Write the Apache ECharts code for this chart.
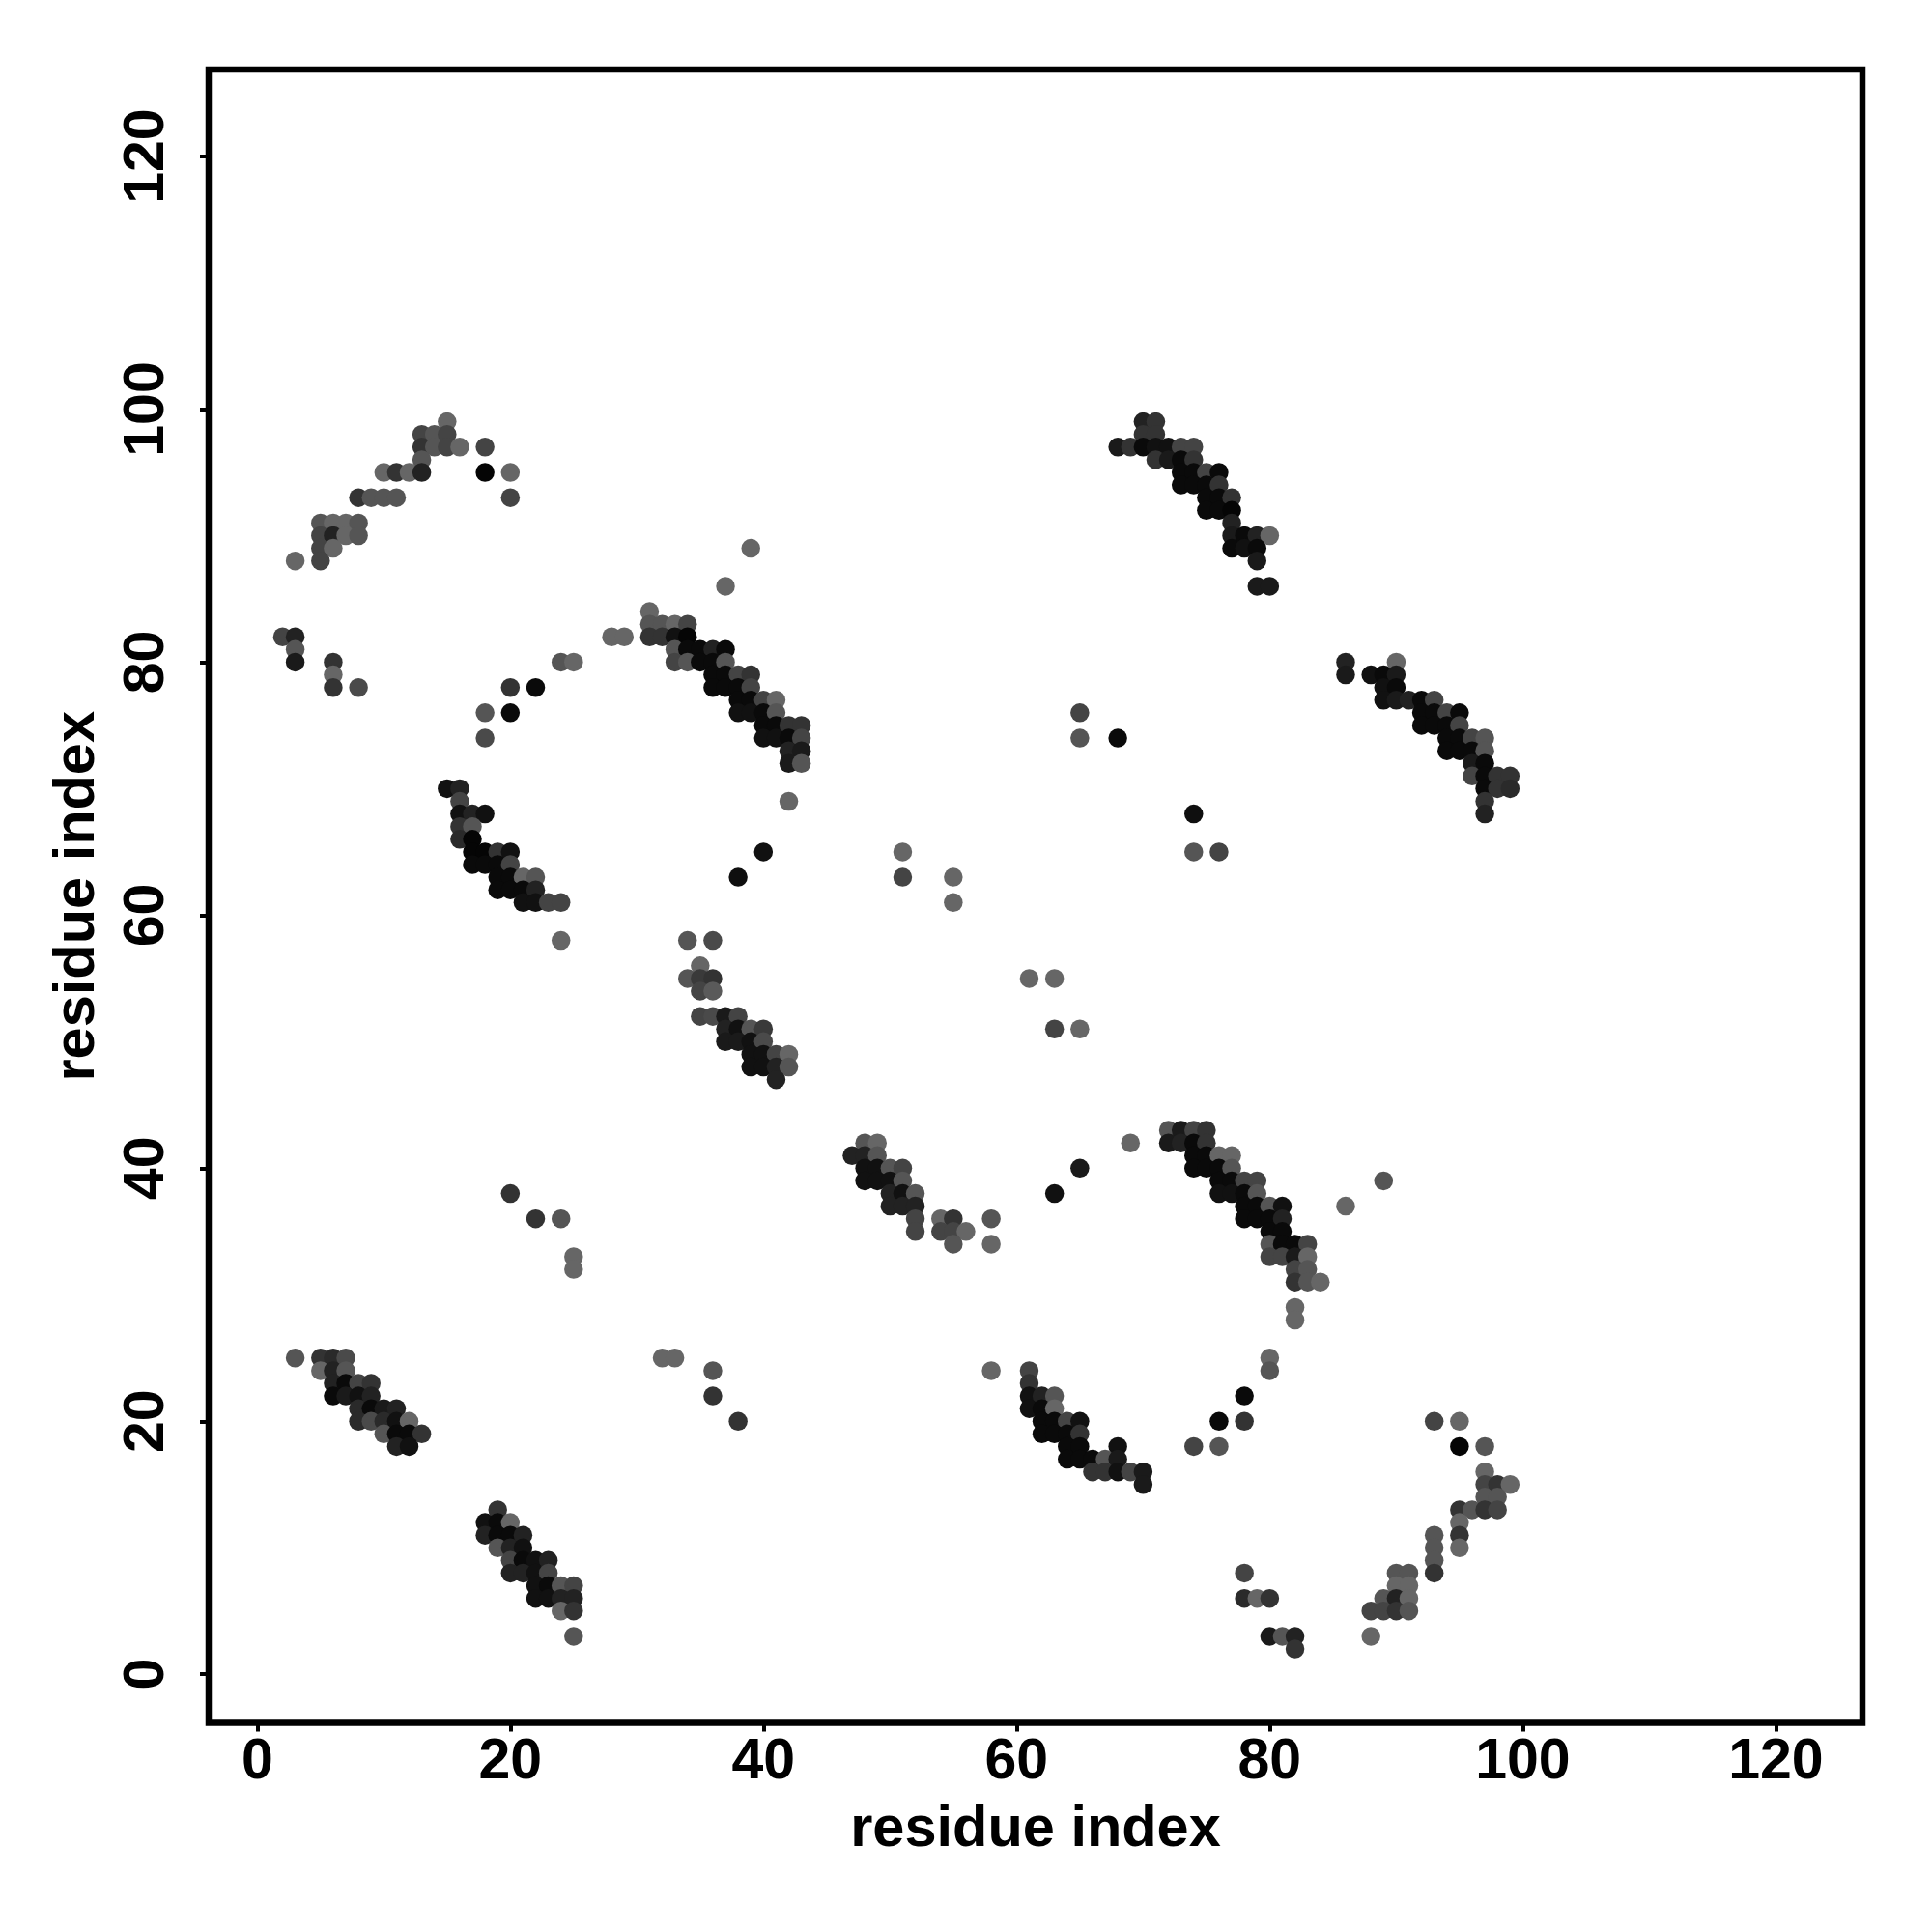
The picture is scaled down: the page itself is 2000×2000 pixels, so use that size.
<!DOCTYPE html>
<html>
<head>
<meta charset="utf-8">
<style>html,body{margin:0;padding:0;background:#fff}#c{width:2000px;height:2000px}</style>
<script src="https://cdn.jsdelivr.net/npm/echarts@6/dist/echarts.min.js"></script>
</head>
<body>
<div id="c"></div>
<script>
// Each entry: [residue i, residue j, grey level of the dot]
const tickLabels = [0, 20, 40, 60, 80, 100, 120];
const axisTitle = 'residue index';

const bottomLeftA = [
[3,25,85],[5,25,51],[6,25,42],[7,25,74],[5,24,102],[6,24,34],[7,24,85],
[6,23,34],[7,23,10],[8,23,68],[9,23,51],[6,22,10],[7,22,26],[8,22,17],[9,22,34],
[8,21,42],[9,21,10],[10,21,26],[11,21,34],[8,20,42],[9,20,74],[10,20,42],[11,20,17],[12,20,102],
[10,19,85],[11,19,10],[12,19,10],[13,19,51],[11,18,34],[12,18,17]];
const bottomLeftB = [
[19,13,51],[18,12,17],[19,12,10],[20,12,102],[18,11,34],[19,11,10],[20,11,10],[21,11,34],
[19,10,85],[20,10,34],[21,10,17],[20,9,68],[21,9,10],[22,9,17],[23,9,34],
[20,8,34],[21,8,34],[22,8,17],[23,8,68],[22,7,17],[23,7,10],[24,7,85],[25,7,68],
[22,6,17],[23,6,17],[24,6,34],[25,6,34],[24,5,102],[25,5,51],[25,3,85]];
const midCluster = [
[34,58,85],[36,58,74],[35,56,102],[34,55,85],[35,55,58],[36,55,51],[35,54,68],[36,54,90],
[35,52,68],[36,52,74],[37,52,26],[38,52,68],[37,51,34],[38,51,17],[39,51,85],[40,51,58],
[37,50,26],[38,50,26],[39,50,17],[40,50,74],[39,49,17],[40,49,17],[41,49,68],[42,49,102],
[39,48,17],[40,48,17],[41,48,34],[42,48,85],[41,47,34]];
const centreArc = [
[48,42,85],[49,42,102],[47,41,34],[48,41,34],[49,41,85],[48,40,17],[49,40,17],[50,40,85],[51,40,68],
[48,39,17],[49,39,17],[50,39,17],[51,39,85],[50,38,34],[51,38,17],[52,38,85],
[50,37,34],[51,37,34],[52,37,34],[52,36,68],[54,36,102],[55,36,51],[58,36,85],
[52,35,68],[54,35,68],[55,35,68],[56,35,102],[55,34,85],[58,34,102]];
const rightArc = [
[72,43,85],[73,43,26],[74,43,68],[75,43,51],[72,42,26],[73,42,34],[74,42,10],[75,42,51],
[74,41,10],[75,41,10],[76,41,102],[77,41,102],[74,40,10],[75,40,10],[76,40,10],[77,40,85],
[76,39,10],[77,39,10],[78,39,68],[79,39,68],[76,38,17],[77,38,17],[78,38,10],[79,38,85],
[78,37,10],[79,37,10],[80,37,85],[81,37,17],[78,36,10],[79,36,10],[80,36,10],[81,36,34],
[80,35,10],[81,35,10],[80,34,85],[81,34,10],[82,34,10],[83,34,68],
[80,33,68],[81,33,68],[82,33,26],[83,33,102],[82,32,68],[83,32,85],
[82,31,51],[83,31,85],[84,31,102],[82,29,102],[82,28,102]];
const lowerArc = [
[61,24,68],[61,23,51],[61,22,17],[62,22,34],[63,22,85],[61,21,17],[62,21,10],[63,21,102],
[62,20,10],[63,20,10],[64,20,68],[65,20,17],[62,19,10],[63,19,10],[64,19,10],[65,19,51],
[64,18,10],[65,18,10],[68,18,17],[64,17,10],[65,17,10],[66,17,10],[67,17,85],[68,17,26],
[66,16,51],[67,16,51],[68,16,17],[69,16,68],[70,16,26],[70,15,26]];
const bottomRight = [
[93,20,68],[95,20,102],[95,18,5],[97,18,85],[97,16,102],[97,15,68],[98,15,51],[99,15,102],
[97,14,85],[98,14,85],[95,13,51],[96,13,85],[97,13,51],[98,13,68],[95,12,102],[93,11,85],[95,11,51],
[93,10,85],[95,10,102],[93,9,85],[90,8,85],[91,8,85],[93,8,51],[90,7,102],[91,7,102],
[89,6,85],[90,6,34],[91,6,102],[88,5,68],[89,5,68],[90,5,51],[91,5,85],[88,3,102]];
const bottomMiddle = [
[78,8,68],[78,6,42],[79,6,102],[80,6,51],[80,3,26],[81,3,85],[82,3,34],[82,2,51]];
const topLeftArc = [
[15,99,102],[13,98,68],[14,98,85],[15,98,68],[13,97,51],[14,97,85],[15,97,68],[16,97,102],[18,97,68],
[13,96,85],[10,95,102],[11,95,51],[12,95,102],[13,95,34],[18,95,5],[20,95,102],
[8,93,51],[9,93,85],[10,93,85],[11,93,85],[20,93,68],
[5,91,85],[6,91,102],[7,91,102],[8,91,85],[5,90,68],[6,90,34],[7,90,102],[8,90,85],
[5,89,68],[6,89,102],[3,88,102],[5,88,68]];
const leftGroup = [
[2,82,68],[3,82,34],[3,81,85],[3,80,26],[6,80,51],[6,79,102],[6,78,51],[8,78,74]];
const upperArc = [
[39,89,102],[37,86,102],[31,84,102],[31,83,85],[32,83,85],[33,83,102],[34,83,68],
[28,82,102],[29,82,102],[31,82,51],[32,82,51],[33,82,17],[34,82,5],
[33,81,85],[34,81,10],[35,81,10],[36,81,34],[37,81,10],[33,80,68],[34,80,85],[35,80,10],[36,80,10],[37,80,85],
[36,79,10],[37,79,10],[38,79,68],[39,79,51],[36,78,10],[37,78,10],[38,78,10],[39,78,68],
[38,77,10],[39,77,10],[40,77,68],[41,77,102],[38,76,17],[39,76,17],[40,76,10],[41,76,85],
[40,75,10],[41,75,10],[42,75,51],[43,75,51],[40,74,17],[41,74,17],[42,74,10],[43,74,68],
[42,73,34],[43,73,26],[42,72,26],[43,72,85],[42,69,102]];
const innerArc = [
[24,80,85],[25,80,102],[20,78,51],[22,78,10],[18,76,85],[20,76,10],[18,74,74],[40,65,17],[38,63,15]];
const leftMidArc = [
[15,70,17],[16,70,34],[16,69,68],[16,68,17],[17,68,34],[18,68,17],[16,67,51],[17,67,85],
[16,66,42],[17,66,5],[17,65,5],[18,65,5],[19,65,51],[20,65,17],[17,64,10],[18,64,10],[19,64,10],[20,64,68],
[19,63,10],[20,63,10],[21,63,102],[22,63,85],[19,62,10],[20,62,10],[21,62,10],[22,62,34],
[21,61,17],[22,61,17],[23,61,68],[24,61,68],[24,58,102]];
const topRightArc = [
[70,99,34],[71,99,51],[70,98,51],[71,98,51],[68,97,26],[69,97,51],[70,97,10],[71,97,17],[72,97,17],[73,97,68],[74,97,68],
[71,96,51],[72,96,26],[73,96,10],[74,96,51],[73,95,10],[74,95,10],[75,95,68],[76,95,10],
[73,94,10],[74,94,10],[75,94,10],[76,94,51],[75,93,10],[76,93,10],[77,93,51],[75,92,10],[76,92,10],[77,92,5],
[77,91,34],[77,90,26],[78,90,10],[79,90,34],[80,90,102],[77,89,10],[78,89,17],[79,89,10],[79,88,26],[79,86,26],[80,86,26]];
const farRightArc = [
[86,80,34],[90,80,102],[86,79,26],[88,79,17],[89,79,10],[90,79,26],[89,78,17],[90,78,10],
[89,77,17],[90,77,26],[91,77,34],[92,77,10],[93,77,68],[92,76,10],[93,76,10],[94,76,68],[95,76,10],
[92,75,10],[93,75,10],[94,75,10],[95,75,68],[94,74,10],[95,74,10],[96,74,68],[97,74,85],
[94,73,10],[95,73,10],[96,73,10],[97,73,85],[96,72,26],[97,72,10],[96,71,68],[97,71,10],[98,71,51],[99,71,51],
[97,70,10],[98,70,51],[99,70,42],[97,69,51],[97,68,34]];
const isolated = [
[65,76,68],[65,74,85],[68,74,10],[74,68,15],[74,65,85],[76,65,68],
[51,65,102],[51,63,68],[55,63,102],[55,61,102],[61,55,102],[63,55,102],[63,51,68],[65,51,102],
[69,42,102],[65,40,26],[63,38,17],[86,37,102],[89,39,85],
[80,25,102],[80,24,85],[78,22,10],[76,20,10],[78,20,51],[74,18,68],[76,18,85],[58,24,102],
[20,38,51],[22,36,51],[24,36,85],[25,33,102],[25,32,102],[32,25,102],[33,25,102],[36,24,85],[36,22,51],[38,20,51]];

const contacts = [].concat(bottomLeftA, bottomLeftB, midCluster, centreArc, rightArc, lowerArc,
  bottomRight, bottomMiddle, topLeftArc, leftGroup, upperArc, innerArc, leftMidArc,
  topRightArc, farRightArc, isolated);

const font = '"Liberation Sans", Arial, sans-serif';
function axis(rot) {
  return {
    type: 'value', min: -3.84, max: 126.84, scale: false,
    name: axisTitle, nameLocation: 'middle',
    nameGap: rot ? 105 : 81,
    nameTextStyle: {fontFamily: font, fontWeight: 'bold', fontSize: 59.5, color: '#000'},
    axisLine: {show: false, onZero: false},
    axisTick: {show: true, length: 9, inside: false, customValues: tickLabels, lineStyle: {color: '#000', width: 4}},
    axisLabel: {show: true, customValues: tickLabels, rotate: rot, margin: rot ? 34 : 12,
      fontFamily: font, fontWeight: 'bold', fontSize: 59, color: '#000'},
    splitLine: {show: false}
  };
}
const chart = echarts.init(document.getElementById('c'), null, {renderer: 'canvas', width: 2000, height: 2000});
chart.setOption({
  animation: false,
  backgroundColor: '#fff',
  grid: {left: 216, top: 72, width: 1712, height: 1711.5, show: true, borderColor: '#000', borderWidth: 6.5, backgroundColor: 'transparent', containLabel: false},
  xAxis: axis(0),
  yAxis: axis(90),
  series: [{
    type: 'scatter', symbol: 'circle', symbolSize: 19.5, silent: true,
    data: contacts,
    itemStyle: {opacity: 1, color: function (p) { const g = p.value[2]; return 'rgb(' + g + ',' + g + ',' + g + ')'; }}
  }]
});
</script>
</body>
</html>
